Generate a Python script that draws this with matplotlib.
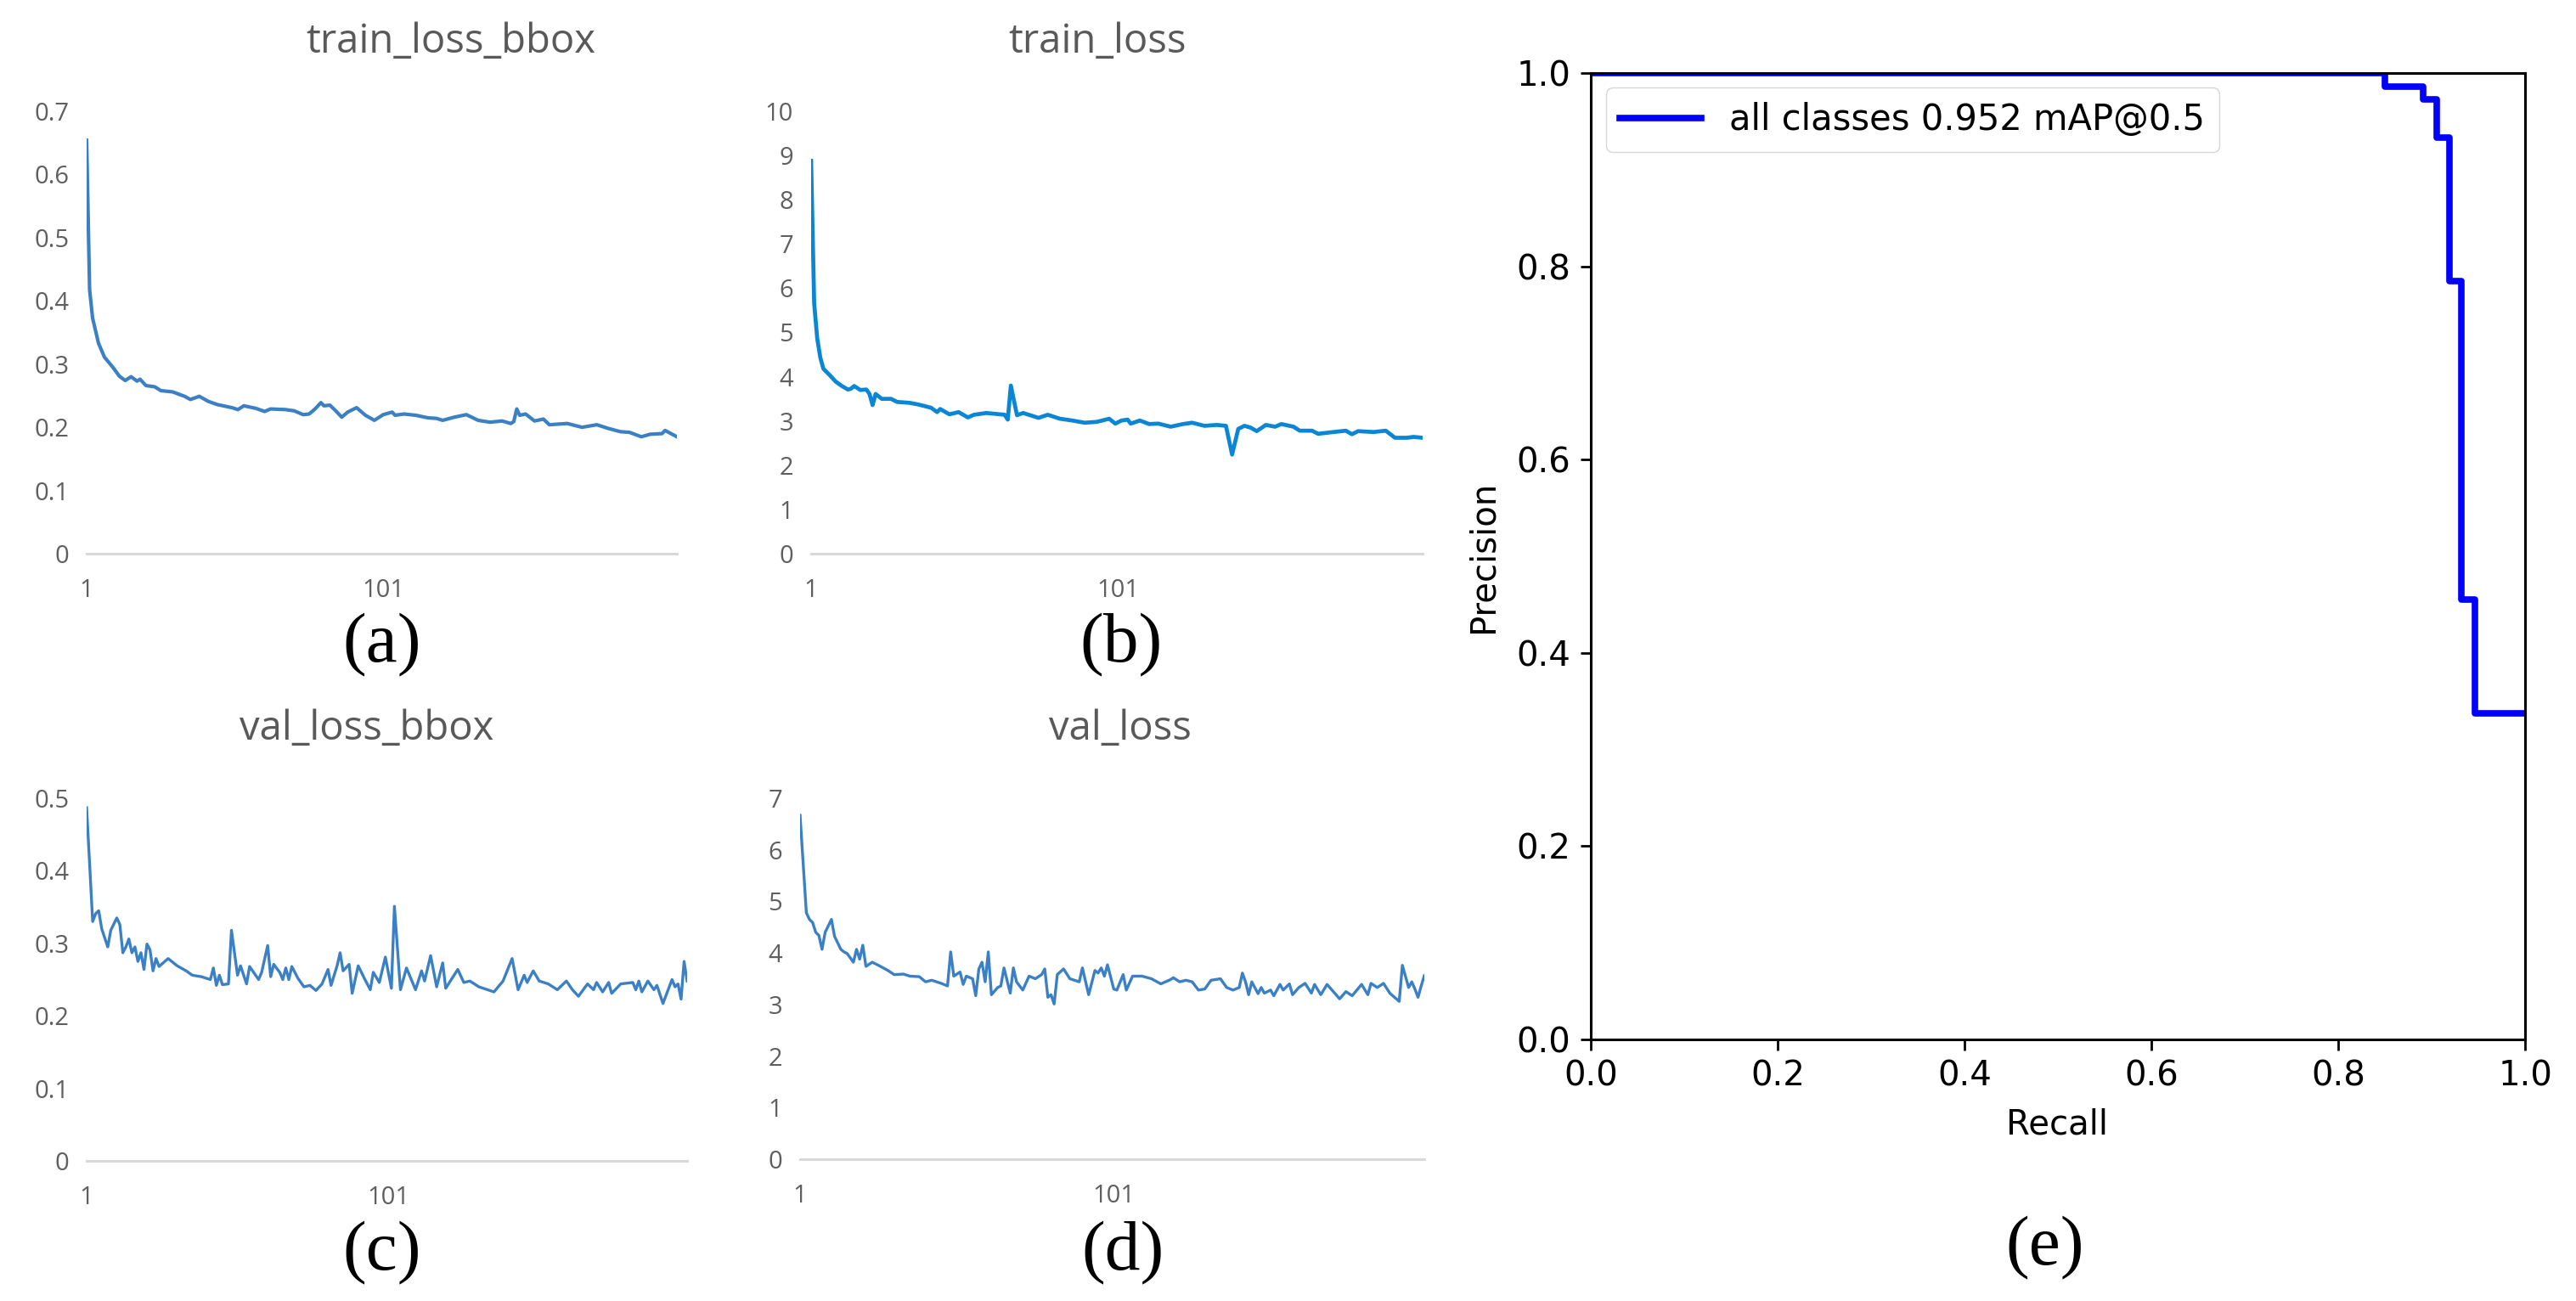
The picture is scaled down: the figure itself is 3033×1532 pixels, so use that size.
import numpy as np
import matplotlib
matplotlib.use("Agg")
import matplotlib.pyplot as plt

# ============== data ==============
# (a) train_loss_bbox
a_epoch = [1, 2, 3, 5, 7, 10, 12, 14, 16, 18, 19, 21, 24, 26, 30, 34, 36, 39, 42, 45,
           50, 52, 54, 58, 61, 63, 68, 71, 74, 76, 78, 80, 81, 83, 85, 87, 89, 92, 95, 98,
           101, 104, 105, 108, 112, 116, 119, 121, 125, 129, 133, 137, 141, 144, 145, 146, 147, 149, 152, 155,
           157, 163, 168, 173, 177, 181, 184, 188, 191, 195, 196, 198, 200]
a_loss = [0.654, 0.418, 0.373, 0.333, 0.311, 0.294, 0.281, 0.274, 0.280, 0.273, 0.276, 0.266, 0.264, 0.258, 0.256, 0.249, 0.244, 0.249, 0.241, 0.236,
          0.231, 0.228, 0.234, 0.230, 0.225, 0.229, 0.228, 0.226, 0.220, 0.221, 0.229, 0.239, 0.234, 0.235, 0.226, 0.216, 0.224, 0.231, 0.219, 0.211,
          0.220, 0.224, 0.219, 0.221, 0.219, 0.215, 0.214, 0.211, 0.216, 0.220, 0.211, 0.208, 0.210, 0.206, 0.209, 0.229, 0.219, 0.221, 0.210, 0.213,
          0.204, 0.206, 0.200, 0.204, 0.198, 0.193, 0.192, 0.185, 0.189, 0.190, 0.195, 0.190, 0.185]

# (b) train_loss
b_epoch = [1, 2, 3, 4, 5, 7, 9, 11, 13, 14, 15, 17, 19, 20, 21, 22, 24, 27, 29, 33,
           36, 40, 42, 43, 46, 49, 52, 54, 58, 64, 65, 66, 68, 70, 75, 78, 82, 86, 90, 94,
           98, 100, 102, 104, 105, 108, 111, 114, 118, 122, 125, 129, 133, 136, 138, 140, 142, 144, 146, 149,
           152, 154, 158, 160, 164, 166, 171, 175, 177, 179, 184, 188, 191, 195, 197, 200]
b_loss = [8.88, 5.65, 4.86, 4.43, 4.18, 4.04, 3.89, 3.79, 3.71, 3.73, 3.79, 3.70, 3.71, 3.61, 3.36, 3.61, 3.50, 3.50, 3.43, 3.41,
          3.37, 3.30, 3.20, 3.27, 3.15, 3.20, 3.08, 3.14, 3.18, 3.14, 3.03, 3.80, 3.13, 3.18, 3.07, 3.14, 3.05, 3.01, 2.96, 2.98,
          3.05, 2.94, 3.01, 3.03, 2.94, 3.01, 2.93, 2.94, 2.87, 2.93, 2.96, 2.89, 2.91, 2.89, 2.24, 2.82, 2.89, 2.85, 2.77, 2.91,
          2.87, 2.93, 2.87, 2.78, 2.78, 2.71, 2.75, 2.78, 2.70, 2.77, 2.75, 2.78, 2.62, 2.62, 2.64, 2.62]

# (c) val_loss_bbox
c_epoch = [1, 3, 4, 5, 6, 8, 9, 11, 12, 13, 14, 15, 16, 17, 18, 19, 20, 21, 22, 23,
           24, 25, 28, 31, 34, 36, 39, 42, 43, 44, 45, 46, 48, 49, 51, 52, 54, 55, 57, 58,
           59, 61, 62, 63, 65, 66, 67, 68, 69, 71, 73, 75, 77, 79, 81, 82, 84, 85, 86, 88,
           89, 91, 93, 95, 96, 98, 100, 102, 103, 105, 107, 110, 112, 113, 115, 117, 119, 120, 124, 126,
           128, 131, 136, 139, 142, 144, 146, 147, 149, 151, 154, 157, 160, 162, 164, 167, 169, 170, 172, 174,
           175, 178, 182, 183, 184, 185, 187, 189, 190, 192, 195, 196, 197, 198, 199, 200]
c_loss = [0.487, 0.330, 0.341, 0.345, 0.320, 0.295, 0.318, 0.335, 0.326, 0.287, 0.295, 0.306, 0.287, 0.295, 0.275, 0.287, 0.264, 0.299, 0.291, 0.262,
          0.279, 0.268, 0.279, 0.269, 0.262, 0.256, 0.254, 0.250, 0.266, 0.242, 0.256, 0.243, 0.244, 0.318, 0.256, 0.269, 0.244, 0.268, 0.256, 0.250,
          0.260, 0.297, 0.254, 0.271, 0.260, 0.250, 0.266, 0.250, 0.268, 0.252, 0.240, 0.242, 0.235, 0.244, 0.264, 0.242, 0.269, 0.287, 0.262, 0.271,
          0.231, 0.269, 0.252, 0.236, 0.260, 0.246, 0.281, 0.238, 0.351, 0.236, 0.266, 0.236, 0.262, 0.248, 0.283, 0.240, 0.273, 0.238, 0.264, 0.246,
          0.248, 0.240, 0.233, 0.248, 0.279, 0.236, 0.256, 0.246, 0.262, 0.248, 0.244, 0.236, 0.248, 0.236, 0.227, 0.244, 0.236, 0.246, 0.233, 0.246,
          0.231, 0.244, 0.246, 0.236, 0.248, 0.233, 0.248, 0.236, 0.242, 0.217, 0.250, 0.240, 0.244, 0.223, 0.275, 0.248]

# (d) val_loss
d_epoch = [1, 3, 4, 5, 6, 7, 8, 9, 11, 12, 14, 15, 16, 18, 19, 20, 21, 22, 24, 26,
           29, 31, 34, 36, 39, 41, 43, 46, 48, 49, 50, 52, 53, 54, 56, 57, 58, 59, 60, 61,
           62, 64, 65, 66, 68, 69, 70, 72, 74, 76, 78, 79, 80, 81, 82, 83, 85, 87, 90, 91,
           93, 95, 96, 97, 98, 99, 101, 102, 104, 105, 107, 110, 113, 116, 119, 120, 122, 124, 126, 128,
           130, 132, 135, 137, 139, 141, 142, 143, 144, 145, 147, 148, 149, 151, 152, 154, 155, 157, 158, 160,
           162, 164, 165, 167, 169, 173, 175, 177, 180, 182, 183, 185, 187, 189, 192, 193, 195, 196, 197, 198,
           199, 200]
d_loss = [6.67, 4.78, 4.65, 4.59, 4.40, 4.34, 4.07, 4.40, 4.65, 4.32, 4.07, 4.02, 3.99, 3.82, 4.07, 3.88, 4.15, 3.74, 3.82, 3.76,
          3.66, 3.58, 3.59, 3.55, 3.54, 3.44, 3.47, 3.41, 3.36, 4.02, 3.55, 3.63, 3.39, 3.55, 3.50, 3.17, 3.69, 3.82, 3.44, 4.02,
          3.19, 3.33, 3.36, 3.71, 3.22, 3.71, 3.44, 3.28, 3.55, 3.50, 3.58, 3.69, 3.14, 3.19, 3.01, 3.58, 3.69, 3.50, 3.44, 3.71,
          3.19, 3.66, 3.61, 3.71, 3.55, 3.77, 3.30, 3.28, 3.58, 3.28, 3.55, 3.55, 3.50, 3.40, 3.48, 3.52, 3.44, 3.47, 3.44, 3.28,
          3.30, 3.47, 3.50, 3.33, 3.28, 3.33, 3.61, 3.44, 3.19, 3.44, 3.21, 3.33, 3.22, 3.28, 3.17, 3.39, 3.28, 3.40, 3.19, 3.33,
          3.41, 3.22, 3.39, 3.19, 3.39, 3.11, 3.25, 3.17, 3.39, 3.19, 3.41, 3.33, 3.41, 3.22, 3.06, 3.76, 3.33, 3.44, 3.30, 3.14,
          3.36, 3.56]

# (e) precision-recall curve (step points)
pr_recall = [0.0, 0.850, 0.891, 0.905, 0.919, 0.932, 0.946, 1.0]
pr_precision = [1.0, 0.986, 0.973, 0.933, 0.785, 0.455, 0.337, 0.337]

panels = [
    # title, epochs, values, y ticks, y tick labels, colour, lw,
    # pixel box (x0, y0, x1, y1), title centre x, label, label pos
    ("train_loss_bbox", a_epoch, a_loss, [0, 0.1, 0.2, 0.3, 0.4, 0.5, 0.6, 0.7],
     ["0", "0.1", "0.2", "0.3", "0.4", "0.5", "0.6", "0.7"], "#3b80c5", 3.0,
     (102, 131, 797, 652), 531, "(a)", (450, 760)),
    ("train_loss", b_epoch, b_loss, list(range(0, 11)),
     [str(v) for v in range(0, 11)], "#0a86d4", 3.4,
     (955, 131, 1675, 652), 1292, "(b)", (1320, 760)),
    ("val_loss_bbox", c_epoch, c_loss, [0, 0.1, 0.2, 0.3, 0.4, 0.5],
     ["0", "0.1", "0.2", "0.3", "0.4", "0.5"], "#3b80c5", 2.4,
     (102, 940, 809, 1367), 432, "(c)", (450, 1476)),
    ("val_loss", d_epoch, d_loss, list(range(0, 8)),
     [str(v) for v in range(0, 8)], "#3b80c5", 2.4,
     (942, 940, 1677, 1365), 1319, "(d)", (1322, 1476)),
]

# ============== figure ==============
W, H = 3033, 1532
fig = plt.figure(figsize=(W / 100, H / 100), dpi=100)
fig.patch.set_facecolor("white")


def px_axes(x0, y0, x1, y1):
    return fig.add_axes([x0 / W, 1 - y1 / H, (x1 - x0) / W, (y1 - y0) / H])


excel_font = "Open Sans"
tick_grey = "#5f5f5f"
title_grey = "#595959"

for title, ep, vals, yt, ytl, col, lw, box, tcx, lab, lab_xy in panels:
    ax = px_axes(*box)
    ax.plot(ep, vals, color=col, lw=lw, solid_joinstyle="round")
    ax.set_xlim(1, 200)
    ax.set_ylim(yt[0], yt[-1])
    ax.set_yticks(yt)
    ax.set_yticklabels(ytl)
    ax.set_xticks([1, 101])
    ax.set_xticklabels(["1", "101"])
    for s in ("top", "right", "left"):
        ax.spines[s].set_visible(False)
    ax.spines["bottom"].set_color("#d9d9d9")
    ax.spines["bottom"].set_linewidth(2.2)
    ax.tick_params(axis="both", length=0, labelsize=21, labelcolor=tick_grey)
    ax.tick_params(axis="y", pad=15)
    ax.tick_params(axis="x", pad=21)
    for t in ax.get_xticklabels() + ax.get_yticklabels():
        t.set_family(excel_font)
    # chart title (Excel puts it a bit off the plot centre)
    fig.text(tcx / W, 1 - (box[1] - 82) / H, title, ha="center", va="center",
             fontsize=34, color=title_grey, family=excel_font)
    fig.text(lab_xy[0] / W, 1 - lab_xy[1] / H, lab, ha="center", va="center",
             fontsize=60, family="Liberation Serif", color="black")

# ============== (e) PR curve ==============
axe = px_axes(1873, 86, 2973, 1224)
axe.plot(pr_recall, pr_precision, drawstyle="steps-post", color="blue", lw=5.5,
         label="all classes 0.952 mAP@0.5")
axe.set_xlim(0, 1)
axe.set_ylim(0, 1)
axe.set_xticks([0, 0.2, 0.4, 0.6, 0.8, 1.0])
axe.set_yticks([0, 0.2, 0.4, 0.6, 0.8, 1.0])
axe.tick_params(axis="both", labelsize=29, length=9, width=2, pad=8)
for s in axe.spines.values():
    s.set_linewidth(2.2)
axe.legend(loc="upper left", fontsize=30, handlelength=2.3,
           borderaxespad=0.42, fancybox=True, framealpha=0.8)

fig.text(1746 / W, 1 - 655 / H, "Precision", rotation=90, ha="center", va="center", fontsize=29)
fig.text(2422 / W, 1 - 1325 / H, "Recall", ha="center", va="center", fontsize=29)
fig.text(2408 / W, 1 - 1470 / H, "(e)", ha="center", va="center",
         fontsize=60, family="Liberation Serif")

fig.savefig("out.png", dpi=100, facecolor="white")
